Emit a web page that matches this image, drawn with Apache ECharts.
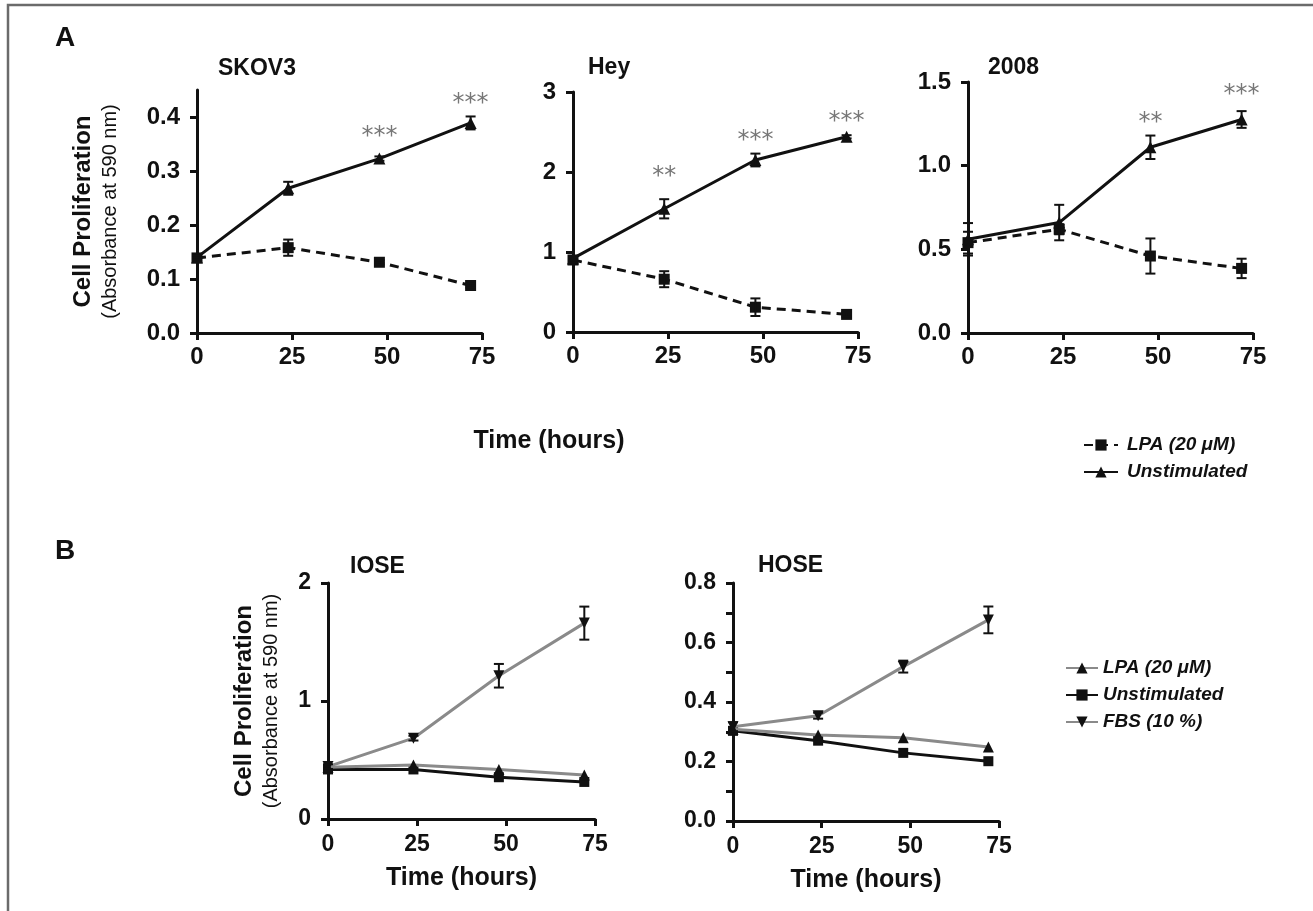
<!DOCTYPE html>
<html>
<head>
<meta charset="utf-8">
<script src="https://cdn.jsdelivr.net/npm/echarts@6/dist/echarts.min.js"></script>
<style>
  html, body { margin: 0; padding: 0; background: #fff; }
  #chart { width: 1313px; height: 911px; }
</style>
</head>
<body>
<div id="chart"></div>
<script>
// sampling times (hours) and x ticks
var hours = [0, 24, 48, 72];
var xTicks = [0, 25, 50, 75];

// A: SKOV3
var skovUnstim = [0.140, 0.268, 0.323, 0.389];
var skovUnstimErr = [0.004, 0.012, 0.004, 0.012];
var skovLpa = [0.139, 0.158, 0.131, 0.088];
var skovLpaErr = [0.004, 0.015, 0.004, 0.004];
var skovStars = [[48, 0.373, 3], [72, 0.433, 3]];
var skovYTicks = [0, 0.1, 0.2, 0.3, 0.4];

// A: Hey
var heyUnstim = [0.92, 1.54, 2.15, 2.44];
var heyUnstimErr = [0.03, 0.12, 0.08, 0.02];
var heyLpa = [0.90, 0.66, 0.31, 0.22];
var heyLpaErr = [0.03, 0.10, 0.11, 0.03];
var heyStars = [[24, 2.0, 2], [48, 2.45, 3], [72, 2.69, 3]];
var heyYTicks = [0, 1, 2, 3];

// A: 2008
var c2008Unstim = [0.56, 0.66, 1.11, 1.276];
var c2008UnstimErr = [0.097, 0.106, 0.07, 0.05];
var c2008Lpa = [0.54, 0.62, 0.46, 0.386];
var c2008LpaErr = [0.065, 0.03, 0.105, 0.058];
var c2008Stars = [[48, 1.286, 2], [72, 1.454, 3]];
var c2008YTicks = [0, 0.5, 1.0, 1.5];

// B: IOSE
var ioseLpa = [0.438, 0.458, 0.42, 0.373];
var ioseUnstim = [0.42, 0.42, 0.354, 0.314];
var ioseFbs = [0.444, 0.685, 1.214, 1.66];
var ioseFbsErr = [0.02, 0.02, 0.10, 0.14];
var ioseYTicks = [0, 1, 2];

// B: HOSE
var hoseLpa = [0.308, 0.289, 0.28, 0.249];
var hoseUnstim = [0.303, 0.27, 0.229, 0.201];
var hoseFbs = [0.317, 0.354, 0.519, 0.676];
var hoseFbsErr = [0.015, 0.01, 0.02, 0.045];
var hoseYLabels = [0, 0.2, 0.4, 0.6, 0.8];
var hoseYTicks = [0, 0.1, 0.2, 0.3, 0.4, 0.5, 0.6, 0.7, 0.8];

var legendText = {
  A_LPA: 'LPA (20 \u03bcM)',
  A_UN: 'Unstimulated',
  B_LPA: 'LPA (20 \u03bcM)',
  B_UN: 'Unstimulated',
  B_FBS: 'FBS (10 %)'
};

var FONT = "'Liberation Sans', Arial, sans-serif";
var INK = '#111';
var GREY = '#8a8a8a';
var DOWN_TRI = 'path://M0,0 L10,0 L5,9 Z';

function pts(values) {
  return hours.map(function (h, i) { return [h, values[i]]; });
}

function xAxisFor(g, size, margin, name) {
  var ax = {
    type: 'value', gridIndex: g, min: 0, max: 75, interval: 25,
    axisLine: { show: true, onZero: false, lineStyle: { color: INK, width: 3 } },
    axisTick: { show: true, length: 7, customValues: xTicks, lineStyle: { color: INK, width: 3 } },
    axisLabel: { customValues: xTicks, color: INK, fontFamily: FONT, fontWeight: 'bold', fontSize: size, margin: margin },
    splitLine: { show: false }
  };
  if (name) {
    ax.name = name;
    ax.nameLocation = 'middle';
    ax.nameGap = 47;
    ax.nameTextStyle = { color: INK, fontFamily: FONT, fontWeight: 'bold', fontSize: 25 };
  }
  return ax;
}

function yAxisFor(g, max, interval, labels, ticks, digits, size, withName, nameGap) {
  var ax = {
    type: 'value', gridIndex: g, min: 0, max: max, interval: interval,
    axisLine: { show: true, onZero: false, lineStyle: { color: INK, width: 3 } },
    axisTick: { show: true, length: 7, customValues: ticks, lineStyle: { color: INK, width: 3 } },
    axisLabel: {
      customValues: labels, color: INK, fontFamily: FONT, fontWeight: 'bold', fontSize: size, margin: 17,
      formatter: function (v) { return v.toFixed(digits); }
    },
    splitLine: { show: false }
  };
  if (withName) {
    ax.name = '{a|Cell Proliferation}\n{b|(Absorbance at 590 nm)}';
    ax.nameLocation = 'middle';
    ax.nameRotate = 90;
    ax.nameGap = nameGap;
    ax.nameTextStyle = {
      color: INK, fontFamily: FONT,
      rich: {
        a: { fontSize: 24, fontWeight: 'bold', fontFamily: FONT, color: INK, lineHeight: 28, align: 'center' },
        b: { fontSize: 20, fontFamily: FONT, color: INK, lineHeight: 26, align: 'center' }
      }
    };
  }
  return ax;
}

function lineSeries(name, g, values, opt) {
  return {
    name: name, type: 'line', xAxisIndex: g, yAxisIndex: g, data: pts(values),
    symbol: opt.symbol, symbolSize: opt.size, showSymbol: true, silent: true, z: opt.z || 2,
    itemStyle: { color: opt.marker || INK },
    lineStyle: { color: opt.color || INK, width: 3, type: opt.dash || 'solid' }
  };
}

function errorSeries(g, values, errs) {
  return {
    type: 'custom', name: 'err', xAxisIndex: g, yAxisIndex: g, silent: true, z: 4,
    data: hours.map(function (h, i) { return [h, values[i], errs[i]]; }),
    renderItem: function (params, api) {
      var x = api.value(0), y = api.value(1), e = api.value(2);
      var top = api.coord([x, y + e]);
      var bot = api.coord([x, y - e]);
      var w = 5;
      function seg(x1, y1, x2, y2) {
        return { type: 'line', shape: { x1: x1, y1: y1, x2: x2, y2: y2 }, style: { stroke: INK, lineWidth: 2 } };
      }
      return {
        type: 'group', children: [
          seg(top[0], top[1], bot[0], bot[1]),
          seg(top[0] - w, top[1], top[0] + w, top[1]),
          seg(bot[0] - w, bot[1], bot[0] + w, bot[1])
        ]
      };
    }
  };
}

function starSeries(g, stars) {
  return {
    type: 'custom', name: 'stars', xAxisIndex: g, yAxisIndex: g, silent: true, z: 5,
    data: stars,
    renderItem: function (params, api) {
      var p = api.coord([api.value(0), api.value(1)]);
      var n = api.value(2);
      return {
        type: 'text', x: p[0], y: p[1] + 5,
        style: {
          text: new Array(n + 1).join('*'), fill: '#777',
          font: '24px "DejaVu Sans"', align: 'center', verticalAlign: 'middle'
        }
      };
    }
  };
}

function label(text, x, y, size, opts) {
  opts = opts || {};
  return {
    type: 'text', x: x, y: y, silent: true,
    style: {
      text: text, fill: INK, font: 'bold ' + size + 'px ' + FONT,
      align: opts.align || 'left', verticalAlign: 'middle'
    }
  };
}

var chart = echarts.init(document.getElementById('chart'));

var option = {
  animation: false,
  backgroundColor: '#fff',
  grid: [
    { left: 197, top: 90, width: 285, height: 243 },
    { left: 573, top: 92, width: 285, height: 240 },
    { left: 968, top: 82, width: 285, height: 251 },
    { left: 328, top: 583, width: 267, height: 236 },
    { left: 733, top: 583, width: 266, height: 238 }
  ],
  xAxis: [
    xAxisFor(0, 24, 12),
    xAxisFor(1, 24, 12),
    xAxisFor(2, 24, 12),
    xAxisFor(3, 23, 14, 'Time (hours)'),
    xAxisFor(4, 23, 14, 'Time (hours)')
  ],
  yAxis: [
    yAxisFor(0, 0.45, 0.1, skovYTicks, skovYTicks, 1, 24, true, 74),
    yAxisFor(1, 3, 1, heyYTicks, heyYTicks, 0, 24, false),
    yAxisFor(2, 1.5, 0.5, c2008YTicks, c2008YTicks, 1, 24, false),
    yAxisFor(3, 2, 1, ioseYTicks, ioseYTicks, 0, 23, true, 44),
    yAxisFor(4, 0.8, 0.2, hoseYLabels, hoseYTicks, 1, 23, false)
  ],
  legend: [
    {
      data: ['A_LPA', 'A_UN'], orient: 'vertical', left: 1078, top: 430,
      itemWidth: 34, itemHeight: 14, itemGap: 7, selectedMode: false,
      formatter: function (n) { return legendText[n]; },
      textStyle: { color: INK, fontFamily: FONT, fontWeight: 'bold', fontStyle: 'italic', fontSize: 19, lineHeight: 20, padding: [0, 0, 0, 4] }
    },
    {
      data: ['B_LPA', 'B_UN', 'B_FBS'], orient: 'vertical', left: 1060, top: 653,
      itemWidth: 32, itemHeight: 14, itemGap: 7, selectedMode: false,
      formatter: function (n) { return legendText[n]; },
      textStyle: { color: INK, fontFamily: FONT, fontWeight: 'bold', fontStyle: 'italic', fontSize: 19, lineHeight: 20, padding: [0, 0, 0, 0] }
    }
  ],
  series: [
    // SKOV3
    lineSeries('A_LPA', 0, skovLpa, { symbol: 'rect', size: 11, dash: [9, 6] }),
    lineSeries('A_UN', 0, skovUnstim, { symbol: 'triangle', size: 12 }),
    errorSeries(0, skovLpa, skovLpaErr),
    errorSeries(0, skovUnstim, skovUnstimErr),
    starSeries(0, skovStars),
    // Hey
    lineSeries('A_LPA', 1, heyLpa, { symbol: 'rect', size: 11, dash: [9, 6] }),
    lineSeries('A_UN', 1, heyUnstim, { symbol: 'triangle', size: 12 }),
    errorSeries(1, heyLpa, heyLpaErr),
    errorSeries(1, heyUnstim, heyUnstimErr),
    starSeries(1, heyStars),
    // 2008
    lineSeries('A_LPA', 2, c2008Lpa, { symbol: 'rect', size: 11, dash: [9, 6] }),
    lineSeries('A_UN', 2, c2008Unstim, { symbol: 'triangle', size: 12 }),
    errorSeries(2, c2008Lpa, c2008LpaErr),
    errorSeries(2, c2008Unstim, c2008UnstimErr),
    starSeries(2, c2008Stars),
    // IOSE
    lineSeries('B_UN', 3, ioseUnstim, { symbol: 'rect', size: 10 }),
    lineSeries('B_LPA', 3, ioseLpa, { symbol: 'triangle', size: 11, color: GREY, z: 3 }),
    lineSeries('B_FBS', 3, ioseFbs, { symbol: DOWN_TRI, size: 11, color: GREY, z: 3 }),
    errorSeries(3, ioseFbs, ioseFbsErr),
    // HOSE
    lineSeries('B_UN', 4, hoseUnstim, { symbol: 'rect', size: 10 }),
    lineSeries('B_LPA', 4, hoseLpa, { symbol: 'triangle', size: 11, color: GREY, z: 3 }),
    lineSeries('B_FBS', 4, hoseFbs, { symbol: DOWN_TRI, size: 11, color: GREY, z: 3 }),
    errorSeries(4, hoseFbs, hoseFbsErr)
  ],
  graphic: [
    {
      type: 'rect', silent: true, z: -1,
      shape: { x: 8, y: 5, width: 1400, height: 1000 },
      style: { fill: 'none', stroke: '#6b6b6b', lineWidth: 2.5 }
    },
    label('A', 55, 38, 28),
    label('B', 55, 551, 28),
    label('SKOV3', 218, 69, 23),
    label('Hey', 588, 68, 23),
    label('2008', 988, 68, 23),
    label('IOSE', 350, 567, 23),
    label('HOSE', 758, 566, 23),
    label('Time (hours)', 549, 441, 25, { align: 'center' })
  ]
};

chart.setOption(option);
</script>
</body>
</html>
